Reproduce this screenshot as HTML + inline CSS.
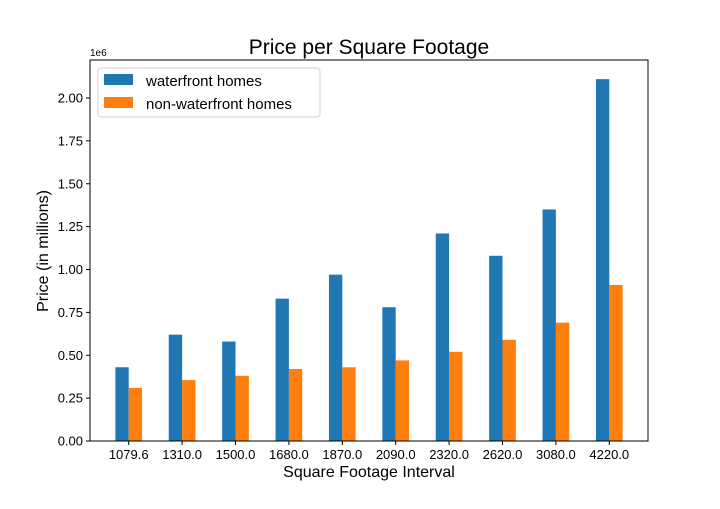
<!DOCTYPE html>
<html><head><meta charset="utf-8"><style>
body{margin:0;background:#fff;}
svg{font-family:"Liberation Sans","DejaVu Sans",sans-serif;}
</style></head><body>
<svg id="chart" width="720" height="504" xmlns="http://www.w3.org/2000/svg">
<rect width="720" height="504" fill="#fff"/>
<text x="369" y="54" text-anchor="middle" font-size="21">Price per Square Footage</text>
<text x="369" y="477" text-anchor="middle" font-size="16">Square Footage Interval</text>
<text transform="translate(48,251) rotate(-90)" text-anchor="middle" font-size="16">Price (in millions)</text>
<text x="90" y="56" font-size="10">1e6</text>
<g id="marks"></g>
<g id="ticks"></g>
<rect x="90" y="60" width="558" height="381" fill="none" stroke="#000" stroke-width="1"/>
<g>
<rect x="98" y="68" width="222" height="49" rx="3" fill="#fff" stroke="#ccc" stroke-opacity="0.9"/>
<rect x="104" y="74" width="29" height="11" fill="#1f77b4"/>
<text x="146" y="86" font-size="15">waterfront homes</text>
<rect x="104" y="97" width="29" height="11" fill="#ff7f0e"/>
<text x="146" y="109" font-size="15">non-waterfront homes</text>
</g>
</svg>
<script>
const categories=["1079.6","1310.0","1500.0","1680.0","1870.0","2090.0","2320.0","2620.0","3080.0","4220.0"];
const waterfront=[0.43,0.62,0.58,0.83,0.97,0.78,1.21,1.08,1.35,2.11];
const nonWaterfront=[0.31,0.355,0.38,0.42,0.43,0.47,0.52,0.59,0.69,0.91];
const yTicks=[0,0.25,0.5,0.75,1.0,1.25,1.5,1.75,2.0];
const NS="http://www.w3.org/2000/svg";
const L=90,R=648,T=60,B=441,xmin=-0.725,xmax=9.725,ymax=2.2216;
const xs=v=>L+(v-xmin)/(xmax-xmin)*(R-L);
const ys=v=>B-v/ymax*(B-T);
const marks=document.getElementById('marks'),ticks=document.getElementById('ticks');
function mk(tag,attrs,parent){const e=document.createElementNS(NS,tag);for(const k in attrs)e.setAttribute(k,attrs[k]);parent.appendChild(e);return e;}
categories.forEach((c,i)=>{
  const w=mk('rect',{x:xs(i-0.25),y:ys(waterfront[i]),width:xs(0.25)-xs(0),height:B-ys(waterfront[i]),fill:'#1f77b4'},marks);
  
  
  const n=mk('rect',{x:xs(i),y:ys(nonWaterfront[i]),width:xs(0.25)-xs(0),height:B-ys(nonWaterfront[i]),fill:'#ff7f0e'},marks);
  
  
  mk('line',{x1:xs(i),x2:xs(i),y1:B,y2:B+4,stroke:'#000'},ticks);
  const t=mk('text',{x:xs(i),y:B+18,'text-anchor':'middle','font-size':'13'},ticks);
  t.textContent=c;
  
  
});
yTicks.forEach(v=>{
  mk('line',{x1:L-4,x2:L,y1:ys(v),y2:ys(v),stroke:'#000'},ticks);
  const t=mk('text',{x:L-7,y:ys(v)+4.5,'text-anchor':'end','font-size':'13'},ticks);
  t.textContent=v.toFixed(2);
  
  
});
</script>
</body></html>
